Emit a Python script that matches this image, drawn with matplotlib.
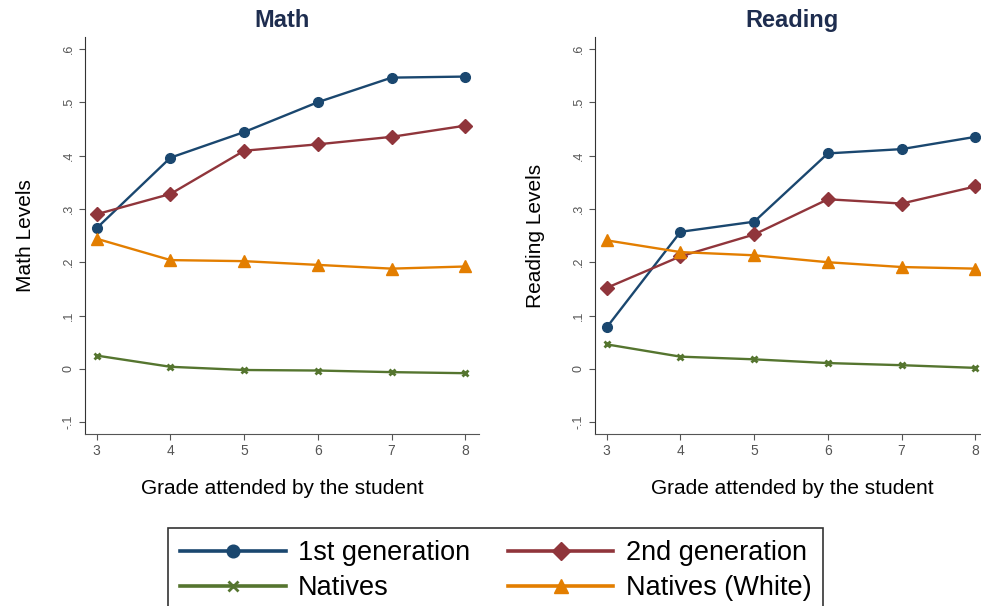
import numpy as np
import matplotlib.pyplot as plt
from matplotlib.ticker import FuncFormatter

plt.rcParams['font.family'] = ['Liberation Sans', 'DejaVu Sans']

grades = [3, 4, 5, 6, 7, 8]

# Math levels
math_gen1 = [0.264, 0.396, 0.444, 0.500, 0.546, 0.548]
math_gen2 = [0.290, 0.328, 0.409, 0.421, 0.435, 0.456]
math_nat = [0.025, 0.004, -0.002, -0.003, -0.006, -0.008]
math_white = [0.244, 0.204, 0.202, 0.195, 0.188, 0.192]

# Reading levels
read_gen1 = [0.078, 0.257, 0.276, 0.404, 0.412, 0.435]
read_gen2 = [0.152, 0.211, 0.252, 0.318, 0.310, 0.342]
read_nat = [0.046, 0.023, 0.018, 0.011, 0.007, 0.002]
read_white = [0.241, 0.219, 0.213, 0.200, 0.191, 0.188]

yticks = [-0.1, 0, 0.1, 0.2, 0.3, 0.4, 0.5, 0.6]

navy = '#1a476f'
maroon = '#90353b'
green = '#55752f'
orange = '#e37e00'


def stata_fmt(v, pos):
    if abs(v) < 1e-9:
        return '0'
    s = ('%.1f' % v).replace('0.', '.')
    return s


fig = plt.figure(figsize=(9.81, 6.06), dpi=100)
ax1 = fig.add_axes([0.0866, 0.2838, 0.402, 0.655])
ax2 = fig.add_axes([0.6065, 0.2838, 0.402, 0.655])

panels = [
    (ax1, 'Math', 'Math Levels', math_gen1, math_gen2, math_nat, math_white),
    (ax2, 'Reading', 'Reading Levels', read_gen1, read_gen2, read_nat, read_white),
]

for ax, title, ylab, g1, g2, nat, wh in panels:
    ax.plot(grades, g1, '-o', color=navy, lw=1.7, ms=7, label='1st generation')
    ax.plot(grades, g2, '-D', color=maroon, lw=1.7, ms=7, label='2nd generation')
    ax.plot(grades, nat, '-x', color=green, lw=1.7, ms=5, mew=2, label='Natives')
    ax.plot(grades, wh, '-^', color=orange, lw=1.7, ms=8, label='Natives (White)')
    ax.set_xlim(2.84, 8.19)
    ax.set_ylim(-0.122, 0.622)
    ax.set_xticks(grades)
    ax.set_yticks(yticks)
    ax.yaxis.set_major_formatter(FuncFormatter(stata_fmt))
    ax.tick_params(axis='y', labelrotation=90, labelsize=9, colors='#555555', length=4)
    ax.tick_params(axis='x', labelsize=10, colors='#555555', length=4)
    for lbl in ax.get_yticklabels():
        lbl.set_va('center')
    ax.spines['top'].set_visible(False)
    ax.spines['right'].set_visible(False)
    ax.spines['left'].set_color('#333333')
    ax.spines['bottom'].set_color('#555555')
    ax.set_title(title, fontsize=17, fontweight='bold', color='#1e2d4f', pad=7)
    ax.set_ylabel(ylab, fontsize=15, color='black', labelpad=20)
    ax.set_xlabel('Grade attended by the student', fontsize=15, labelpad=15)

handles, labels = ax1.get_legend_handles_labels()
order = [0, 2, 1, 3]
leg = fig.legend([handles[i] for i in order], [labels[i] for i in order],
                 loc='upper left', bbox_to_anchor=(0.171, 0.129), ncol=2,
                 fontsize=19.5, frameon=True, fancybox=False, edgecolor='black',
                 handlelength=3.9, columnspacing=1.4, borderpad=0.45,
                 labelspacing=0.35, handletextpad=0.45, borderaxespad=0)
leg.get_frame().set_linewidth(1.2)
for h in leg.legend_handles:
    h.set_linewidth(2.6)
    h.set_markersize(h.get_markersize() * 1.3)

fig.savefig('out.png', dpi=100)
